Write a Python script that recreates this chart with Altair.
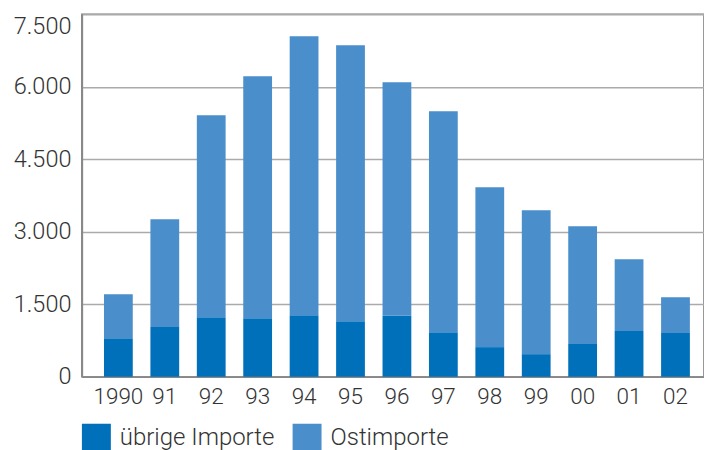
import altair as alt
import pandas as pd

years = ["1990", "91", "92", "93", "94", "95", "96", "97", "98", "99", "00", "01", "02"]
uebrige = [800, 1028, 1234, 1213, 1275, 1151, 1261, 924, 614, 469, 676, 945, 904]
ost = [910, 2233, 4177, 5005, 5770, 5708, 4833, 4570, 3308, 2978, 2440, 1489, 744]
series = ["übrige Importe", "Ostimporte"]
colors = ["#0070BA", "#4A8ECC"]
y_ticks = [0, 1500, 3000, 4500, 6000, 7500]

rows = []
for i, y in enumerate(years):
    rows.append({"year": y, "serie": series[0], "value": uebrige[i], "ord": 0})
    rows.append({"year": y, "serie": series[1], "value": ost[i], "ord": 1})
df = pd.DataFrame(rows)

FONT = "Roboto"

chart = alt.Chart(df).mark_bar().encode(
    x=alt.X("year:N", sort=years,
            scale=alt.Scale(paddingInner=0.38, paddingOuter=0.39, align=0.61),
            axis=alt.Axis(title=None, labelAngle=0, ticks=False, domain=True,
                          domainColor="#888", domainWidth=1.5,
                          labelFontSize=22.5, labelPadding=9, labelColor="#333",
                          labelFont=FONT, labelFontWeight=300)),
    y=alt.Y("value:Q", stack="zero",
            scale=alt.Scale(domain=[0, 7500], nice=False),
            axis=alt.Axis(title=None, values=y_ticks, ticks=False,
                          labelExpr="replace(format(datum.value, ',d'), ',', '.')",
                          labelBaseline=alt.condition("datum.value == 7500",
                                                      alt.value("top"), alt.value("middle")),
                          domainColor="#888", domainWidth=1.5,
                          gridColor="#aaa", gridWidth=1.5,
                          labelFontSize=23.5, labelPadding=11, labelColor="#333",
                          labelFont=FONT, labelFontWeight=300)),
    color=alt.Color("serie:N", scale=alt.Scale(domain=series, range=colors),
                    legend=alt.Legend(title=None, orient="none", legendX=0, legendY=410,
                                      direction="horizontal", symbolType="square",
                                      symbolSize=840, symbolStrokeWidth=0,
                                      labelFontSize=24, labelFont=FONT,
                                      labelFontWeight=300, labelColor="#333",
                                      columnPadding=18, labelOffset=9)),
    order=alt.Order("ord:Q", sort="ascending"),
).properties(
    width=623, height=363,
    autosize=alt.AutoSizeParams(type="none"),
    padding={"left": 74, "top": 6, "right": 0, "bottom": 80},
).configure_view(
    stroke="#777", strokeWidth=1.5
)

chart.save("out.html", embed_options={"renderer": "svg", "actions": False})
